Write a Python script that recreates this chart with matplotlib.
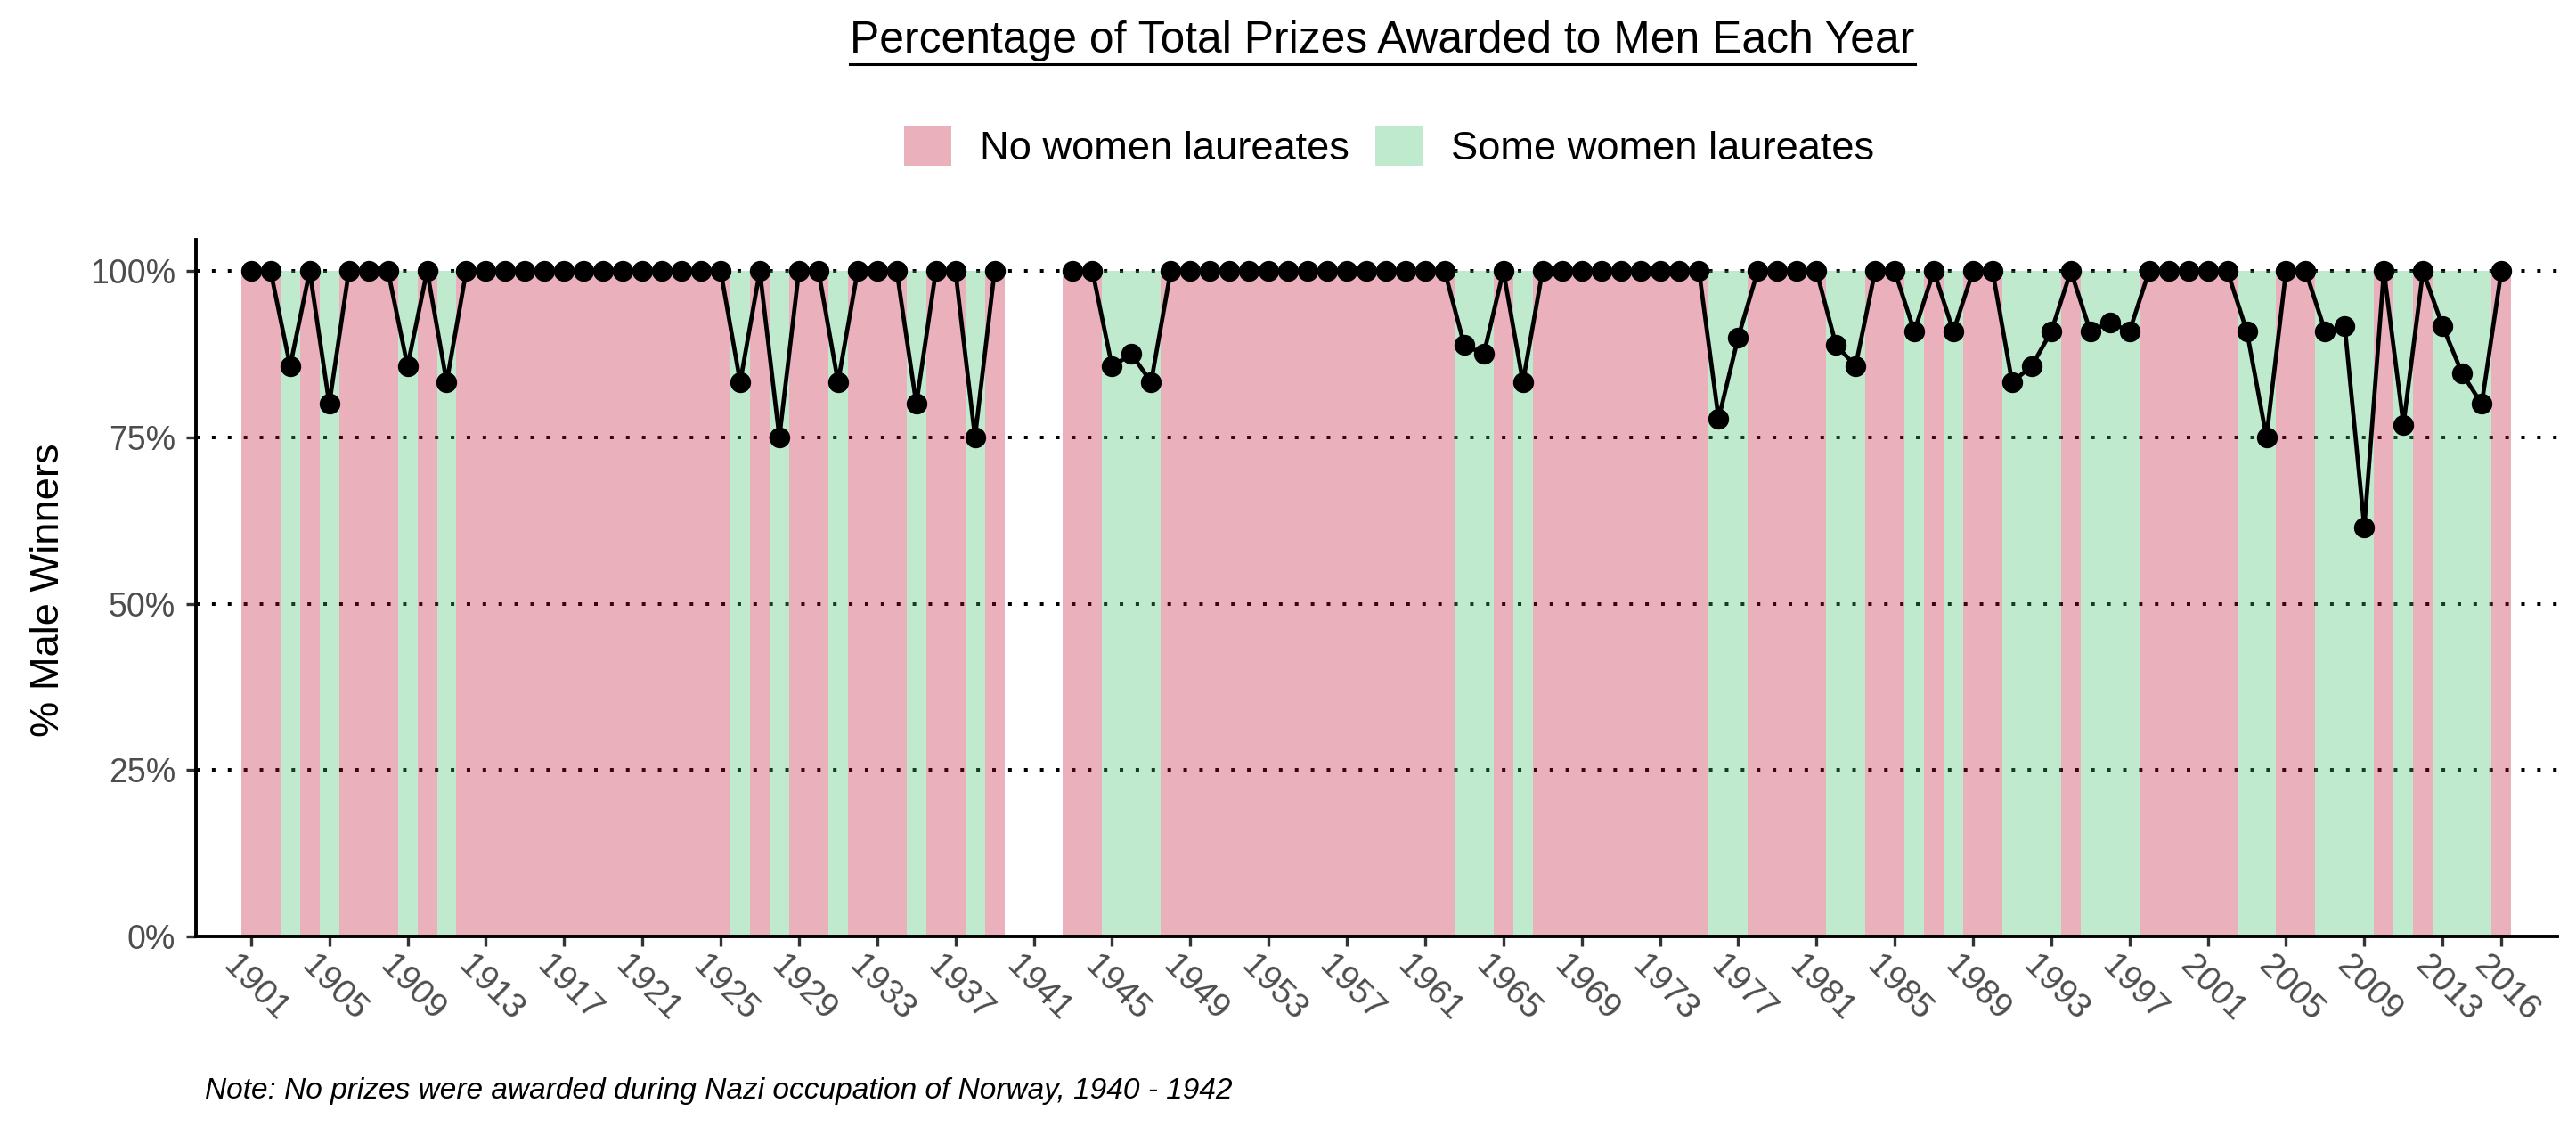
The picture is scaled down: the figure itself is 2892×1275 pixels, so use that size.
import numpy as np
import matplotlib
matplotlib.use('Agg')
import matplotlib.pyplot as plt
from matplotlib.patches import Patch
from matplotlib.lines import Line2D
from matplotlib.transforms import ScaledTranslation

plt.rcParams['font.family'] = ['Liberation Sans', 'DejaVu Sans']

# share of laureates who were men, per year (no prizes 1940-1942)
years = [1901, 1902, 1903, 1904, 1905, 1906, 1907, 1908, 1909, 1910,
         1911, 1912, 1913, 1914, 1915, 1916, 1917, 1918, 1919, 1920,
         1921, 1922, 1923, 1924, 1925, 1926, 1927, 1928, 1929, 1930,
         1931, 1932, 1933, 1934, 1935, 1936, 1937, 1938, 1939,
         1943, 1944, 1945, 1946, 1947, 1948, 1949, 1950, 1951, 1952,
         1953, 1954, 1955, 1956, 1957, 1958, 1959, 1960, 1961, 1962,
         1963, 1964, 1965, 1966, 1967, 1968, 1969, 1970, 1971, 1972,
         1973, 1974, 1975, 1976, 1977, 1978, 1979, 1980, 1981, 1982,
         1983, 1984, 1985, 1986, 1987, 1988, 1989, 1990, 1991, 1992,
         1993, 1994, 1995, 1996, 1997, 1998, 1999, 2000, 2001, 2002,
         2003, 2004, 2005, 2006, 2007, 2008, 2009, 2010, 2011, 2012,
         2013, 2014, 2015, 2016]
pct_male = [100, 100, 85.7, 100, 80, 100, 100, 100, 85.7, 100,
            83.3, 100, 100, 100, 100, 100, 100, 100, 100, 100,
            100, 100, 100, 100, 100, 83.3, 100, 75, 100, 100,
            83.3, 100, 100, 100, 80, 100, 100, 75, 100,
            100, 100, 85.7, 87.5, 83.3, 100, 100, 100, 100, 100,
            100, 100, 100, 100, 100, 100, 100, 100, 100, 100,
            88.9, 87.5, 100, 83.3, 100, 100, 100, 100, 100, 100,
            100, 100, 100, 77.8, 90, 100, 100, 100, 100, 88.9,
            85.7, 100, 100, 90.9, 100, 90.9, 100, 100, 83.3, 85.7,
            90.9, 100, 90.9, 92.3, 90.9, 100, 100, 100, 100, 100,
            90.9, 75, 100, 100, 90.9, 91.7, 61.5, 100, 76.9, 100,
            91.7, 84.6, 80, 100]
tick_years = list(range(1901, 2014, 4)) + [2016]
legend_labels = ['No women laureates', 'Some women laureates']
fill_colors = ['#C00E31', '#3DC069']
fill_alpha = 0.32

years = np.array(years)
pct_male = np.array(pct_male)
some_women = pct_male < 100

fig = plt.figure(figsize=(14.46, 6.375), dpi=200)
ax = fig.add_axes([0.0761, 0.1757, 0.9167, 0.6133])

# dotted horizontal grid, sits under the translucent bars
for g in [25, 50, 75, 100]:
    ax.axhline(g, color='black', lw=1.44, linestyle=(0, (1, 3.47)), zorder=1)

# background bars, one per year
bar_cols = [fill_colors[1] if w else fill_colors[0] for w in some_women]
ax.bar(years, 100, width=1.0, color=bar_cols, alpha=fill_alpha, linewidth=0,
       zorder=2)

# line broken across the war years
for seg in [years < 1940, years > 1942]:
    ax.plot(years[seg], pct_male[seg], color='black', lw=1.7, marker='o',
            markersize=7.4, zorder=3)

ax.set_xlim(1898.19, 2018.87)
ax.set_ylim(0, 104.7)
ax.set_yticks([0, 25, 50, 75, 100])
ax.set_yticklabels(['0%', '25%', '50%', '75%', '100%'])
ax.set_xticks(tick_years)
ax.set_xticklabels([str(t) for t in tick_years], rotation=-45, ha='left',
                   va='center', rotation_mode='anchor')

for s in ['top', 'right']:
    ax.spines[s].set_visible(False)
for s in ['left', 'bottom']:
    ax.spines[s].set_linewidth(1.4)
    ax.spines[s].set_color('black')
ax.tick_params(axis='both', length=3.8, width=1.2, color='#333333',
               labelcolor='#4D4D4D', labelsize=13.5)
ax.tick_params(axis='x', labelsize=14, pad=6.2)
ax.tick_params(axis='y', pad=4.5)
shift = ScaledTranslation(-9.2 / 72, 0, fig.dpi_scale_trans)
for lab in ax.get_xticklabels():
    lab.set_transform(lab.get_transform() + shift)

# title with underline
title = fig.text(0.5367, 0.9535, 'Percentage of Total Prizes Awarded to Men Each Year',
                 ha='center', va='baseline', fontsize=17.9, color='black')
fig.canvas.draw()
bb = title.get_window_extent().transformed(fig.transFigure.inverted())
uy = 1 - 71.7 / 1275
fig.add_artist(Line2D([bb.x0, bb.x1], [uy, uy], color='black', lw=1.1,
                      transform=fig.transFigure))

handles = [Patch(facecolor=c, edgecolor='none', alpha=fill_alpha) for c in fill_colors]
fig.legend(handles, legend_labels, loc='center', bbox_to_anchor=(0.5392, 0.871),
           ncol=2, frameon=False, fontsize=16.3, handlelength=1.17,
           handleheight=1.17, handletextpad=0.7, columnspacing=0.65)

fig.text(0.019, 0.481, '% Male Winners', rotation=90, ha='center', va='center',
         fontsize=16.3, color='black')

fig.text(0.0797, 0.0395,
         'Note: No prizes were awarded during Nazi occupation of Norway, 1940 - 1942',
         ha='left', va='center', fontsize=12, style='italic', color='black')

fig.savefig('out.png', dpi=200)
